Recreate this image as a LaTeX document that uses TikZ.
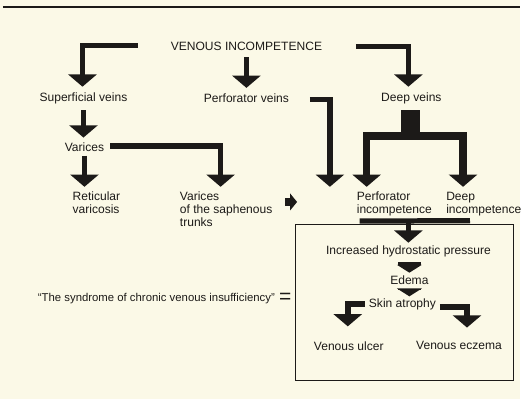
\documentclass[tikz,border=0pt]{standalone}
\usepackage{fontspec}
\setmainfont{Liberation Sans}
\usetikzlibrary{arrows.meta,calc}
\definecolor{paper}{RGB}{251,249,231}
\definecolor{ink}{RGB}{28,26,24}

\begin{document}
\begin{tikzpicture}[x=0.02cm,y=-0.02cm,
  every node/.style={font=\fontsize{6.9}{7.4}\selectfont,text=ink,inner sep=1pt},
  txt/.style={align=left,anchor=north west},
  blk/.style={draw=ink,line width=3.2pt,-{Triangle[width=16pt,length=7pt]}},
  wide/.style={draw=ink,line width=4.3pt,-{Triangle[width=16pt,length=7pt]}},
  bar/.style={draw=ink,line width=3pt},
  flat/.style={draw=ink,line width=13pt,-{Triangle[width=14pt,length=4.5pt]}},
  tiny/.style={draw=ink,line width=5pt,-{Triangle[width=9.5pt,length=4pt]}}]
\fill[paper] (0,0) rectangle (523,402);
\draw[ink,line width=0.8pt] (3,7) -- (523,7);

\node (vi) at (248,47) {VENOUS INCOMPETENCE};
\node (sv) at (84,99) {Superficial veins};
\node (pv) at (248,99) {Perforator veins};
\node (dv) at (414,99) {Deep veins};
\node (var) at (85,148) {Varices};
\node[txt] (ret) at (71,191) {Reticular\\varicosis};
\node[txt] (vst) at (179,191) {Varices\\of the saphenous\\trunks};
\node[txt] (pi) at (357,191) {Perforator\\incompetence};
\node[txt] (di) at (447,191) {Deep\\incompetence};
\node (ihp) at (411,253) {Increased hydrostatic pressure};
\node (ed) at (412,282) {Edema};
\node (sa) at (405,306) {Skin atrophy};
\node (vu) at (351,348) {Venous ulcer};
\node (vec) at (462,348) {Venous eczema};
\node[font=\fontsize{12}{12}\selectfont] (eq) at (287,300) {=};
\node[anchor=east,font=\fontsize{6.5}{7.4}\selectfont] (syn) at (eq.west)
  {``The syndrome of chronic venous insufficiency''};

\draw[ink,line width=0.6pt] (297,226) rectangle (517,383);

\draw[blk] ($(vi.west)+(-31,-1)$) -| ($(sv.north)+(-1,-4)$);
\draw[blk] ($(vi.south)+(0,4)$) -- ($(pv.north)+(0,-4)$);
\draw[blk] ($(vi.east)+(32,0)$) -| ($(dv.north)+(-3,-4)$);
\draw[blk] ($(sv.south)+(0,4)$) -- ($(sv.south |- var.north)+(0,-3)$);
\draw[blk] ($(var.south)+(0,2)$) -- ($(var.south |- ret.north)+(0,-3)$);
\draw[blk] ($(var.east)+(4,-1)$) -| ($(vst.north west)+(43,-3)$);
\draw[blk] ($(pv.east)+(19,1)$) -| ($(pi.north west)+(-25,-3)$);

% deep veins split in two
\coordinate (split) at ($(dv.south)+(0,30)$);
\draw[ink,line width=11pt] ($(dv.south)+(-1,4)$) -- ($(split)+(-1,4)$);
\draw[wide] (split) -| ($(pi.north west)+(12,-3)$);
\draw[wide] (split) -| ($(di.north west)+(19,-3)$);

\draw[tiny] ($(pi.west)+(-70,-2)$) -- ($(pi.west)+(-58,-2)$);

\path ($(pi.south west)+(5,3)$) coordinate (bl) ($(di.south west)+(26,3)$) coordinate (br);
\draw[bar] (bl) -- (br);
\draw[blk] (bl -| ihp.north) -- ($(ihp.north)+(0,-1)$);

\draw[flat] ($(ihp.south)+(1,3)$) -- ($(ed.north)+(0,-1)$);
\draw[flat] ($(ed.south)+(0,2)$) -- ($(ed.south |- sa.north)+(0,0)$);
\draw[blk] ($(sa.west)+(-2,0)$) -| ($(vu.north)+(-1,-13)$);
\draw[blk] ($(sa.east)+(2,3)$) -| ($(vec.north)+(8,-12)$);
\end{tikzpicture}
\end{document}
